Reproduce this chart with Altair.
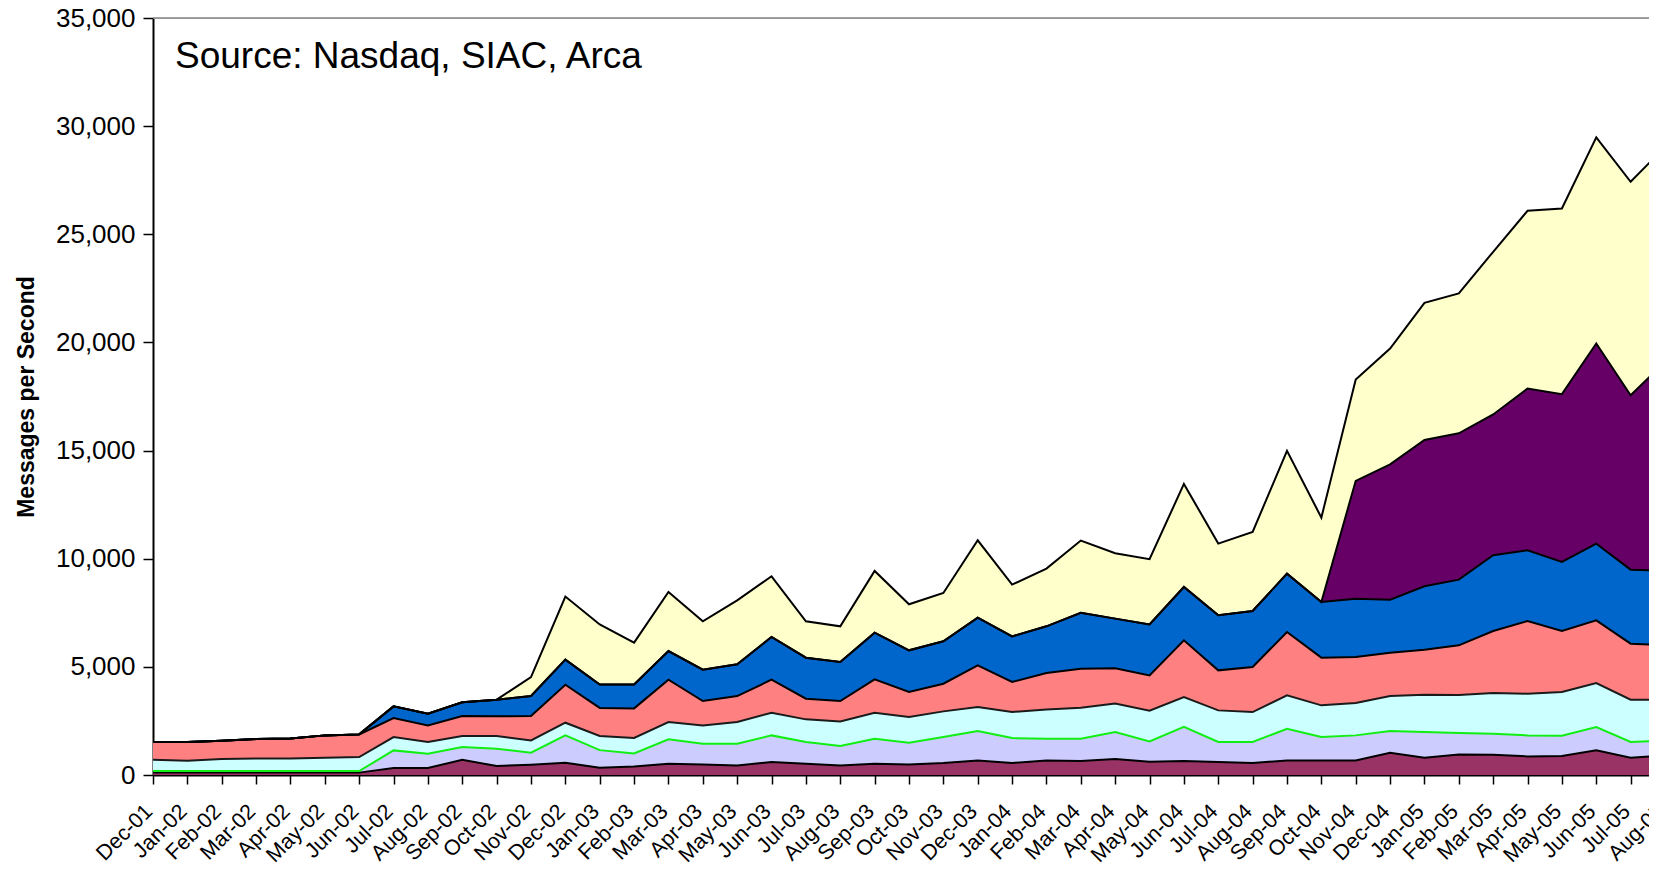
import altair as alt
import pandas as pd

months = ["Dec-01",
          "Jan-02", "Feb-02", "Mar-02", "Apr-02", "May-02", "Jun-02", "Jul-02", "Aug-02", "Sep-02", "Oct-02", "Nov-02", "Dec-02",
          "Jan-03", "Feb-03", "Mar-03", "Apr-03", "May-03", "Jun-03", "Jul-03", "Aug-03", "Sep-03", "Oct-03", "Nov-03", "Dec-03",
          "Jan-04", "Feb-04", "Mar-04", "Apr-04", "May-04", "Jun-04", "Jul-04", "Aug-04", "Sep-04", "Oct-04", "Nov-04", "Dec-04",
          "Jan-05", "Feb-05", "Mar-05", "Apr-05", "May-05", "Jun-05", "Jul-05", "Aug-05"]

maroon = [110, 110, 110, 110, 110, 110, 110,
          320, 320, 706, 413, 475, 567, 340, 390,
          521, 490, 444, 598, 521, 444, 521, 490, 552, 675, 552, 675, 644, 737, 610,
          650, 598, 552, 675, 675, 675, 1030, 799, 953, 937, 860, 876, 1138, 799, 907]
lavender = [70, 70, 70, 70, 70, 70, 70,
            818, 664, 586, 802, 555, 1265, 810, 610,
            1126, 956, 1002, 1233, 1002, 894, 1156, 1002, 1203, 1357, 1156, 1002, 1033, 1249, 940,
            1580, 926, 972, 1465, 1080, 1157, 1003, 1187, 987, 972, 972, 940, 1079, 725, 693]
cyan = [526, 480, 557, 588, 588, 619, 650,
        617, 540, 509, 586, 571, 586, 651, 715,
        801, 848, 1002, 1049, 1049, 1141, 1203, 1188, 1187, 1110, 1203, 1357, 1435, 1324, 1420,
        1370, 1464, 1387, 1542, 1465, 1496, 1618, 1727, 1758, 1881, 1928, 2021, 2036, 1958, 1882]
salmon = [818, 864, 848, 894, 925, 1033, 1048,
          879, 771, 925, 910, 1125, 1758, 1299, 1365,
          1959, 1126, 1203, 1527, 956, 941, 1542, 1157, 1280, 1928, 1388, 1681, 1804, 1630, 1630,
          2630, 1851, 2082, 2930, 2205, 2128, 2005, 2082, 2297, 2869, 3361, 2822, 2899, 2591, 2528]
blue = [0, 0, 0, 0, 0, 0, 0,
        539, 539, 633, 771, 926, 1156, 1080, 1105,
        1326, 1449, 1465, 1974, 1897, 1804, 2159, 1927, 1958, 2205, 2112, 2159, 2584, 2290, 2360,
        2464, 2544, 2590, 2699, 2575, 2698, 2452, 2930, 3038, 3500, 3269, 3191, 3546, 3422, 3440]
purple = [0, 0, 0, 0, 0, 0, 0,
          0, 0, 0, 0, 0, 0, 0, 0,
          0, 0, 0, 0, 0, 0, 0, 0, 0, 0, 0, 0, 0, 0, 0,
          0, 0, 0, 0, 0, 5446, 6252, 6765, 6767, 6511, 7479, 7757, 9252, 8065, 9650]
yellow = [0, 0, 0, 0, 0, 0, 0,
          0, 0, 0, 0, 878, 2918, 2780, 1935,
          2729, 2236, 2961, 2806, 1680, 1650, 2853, 2128, 2236, 3577, 2391, 2668, 3340, 3020, 3020,
          4766, 3315, 3655, 5674, 3901, 4685, 5359, 6342, 6463, 7521, 8218, 8589, 9530, 9869, 9940]

series_names = ["Series 1", "Series 2", "Series 3", "Series 4", "Series 5", "Series 6", "Series 7"]
series_values = [maroon, lavender, cyan, salmon, blue, purple, yellow]
fills = ["#993366", "#CCCCFF", "#CCFFFF", "#FF8080", "#0066CC", "#660066", "#FFFFCC"]
strokes = ["#000000", "#11EE11", "#1A1A1A", "#000000", "#000000", "#000000", "#000000"]
y_ticks = [0, 5000, 10000, 15000, 20000, 25000, 30000, 35000]
source_note = ["Source: Nasdaq, SIAC, Arca"]

rows = []
for k, (name, vals) in enumerate(zip(series_names, series_values)):
    for i, v in enumerate(vals):
        rows.append({"idx": i, "series": name, "order": k, "value": v})
df = pd.DataFrame(rows)

FONT = "Liberation Sans"
STEP = 34.36
X_MAX = len(months) - 1          # last month sits just past the visible right edge
PLOT_W = round(STEP * X_MAX)
PLOT_H = 757
PAD_LEFT = 145
PAD_RIGHT = 1641 - PAD_LEFT - PLOT_W   # negative: the far right of the plot is cropped

label_expr = "[" + ",".join("'" + m + "'" for m in months) + "][datum.value]"

x_enc = alt.X(
    "idx:Q",
    scale=alt.Scale(domain=[0, X_MAX], nice=False, zero=False),
    axis=alt.Axis(
        values=list(range(len(months))), labelExpr=label_expr, labelAngle=315,
        labelAlign="right", labelBaseline="middle", labelPadding=24, labelOffset=-4,
        tickSize=9, tickWidth=1.5, tickColor="#000000", domainColor="#000000", domainWidth=2,
        labelFontSize=21.5, labelFont=FONT, labelColor="#000000", labelOverlap=False,
        labelFlush=False, labelBound=False, grid=False, title=None,
    ),
)

y_scale = alt.Scale(domain=[0, 35000], nice=False)
y_axis = alt.Axis(
    values=y_ticks, format=",d", tickSize=10, tickWidth=1.5, tickColor="#000000",
    domainColor="#000000", domainWidth=2, labelFontSize=26, labelFont=FONT,
    labelColor="#000000", labelPadding=8, grid=False,
    title="Messages per Second", titleFont=FONT, titleFontSize=23, titleFontWeight="bold",
    titleColor="#000000", titleAngle=270, titleX=-127, titleY=PLOT_H / 2,
    titleAlign="center", titleBaseline="middle",
)

base = alt.Chart(df).transform_stack(
    stack="value", groupby=["idx"], as_=["y0", "y1"],
    sort=[alt.SortField("order", order="ascending")],
)

areas = base.mark_area(clip=True, interpolate="linear").encode(
    x=x_enc,
    y=alt.Y("y1:Q", scale=y_scale, axis=y_axis),
    y2="y0:Q",
    color=alt.Color("series:N", scale=alt.Scale(domain=series_names, range=fills), legend=None),
)

lines = base.mark_line(clip=True, strokeWidth=2, interpolate="linear").encode(
    x=x_enc,
    y=alt.Y("y1:Q", scale=y_scale, axis=y_axis),
    stroke=alt.Stroke("series:N", scale=alt.Scale(domain=series_names, range=strokes), legend=None),
    detail="series:N",
)

top_border = alt.Chart(pd.DataFrame({"v": [35000]})).mark_rule(
    color="#808080", strokeWidth=1.5
).encode(y=alt.Y("v:Q", scale=y_scale, axis=y_axis))

note = alt.Chart(pd.DataFrame({"t": source_note})).mark_text(
    align="left", baseline="alphabetic", fontSize=37, font=FONT, color="#000000"
).encode(text="t:N", x=alt.value(22), y=alt.value(50))

chart = alt.layer(areas, lines, top_border, note).properties(
    width=PLOT_W,
    height=PLOT_H,
    autosize=alt.AutoSizeParams(type="none"),
    padding={"left": PAD_LEFT, "top": 10, "right": PAD_RIGHT, "bottom": 89},
).configure_view(stroke=None).configure(background="#FFFFFF")

chart.save("out.html", embed_options={"renderer": "svg", "actions": False})
